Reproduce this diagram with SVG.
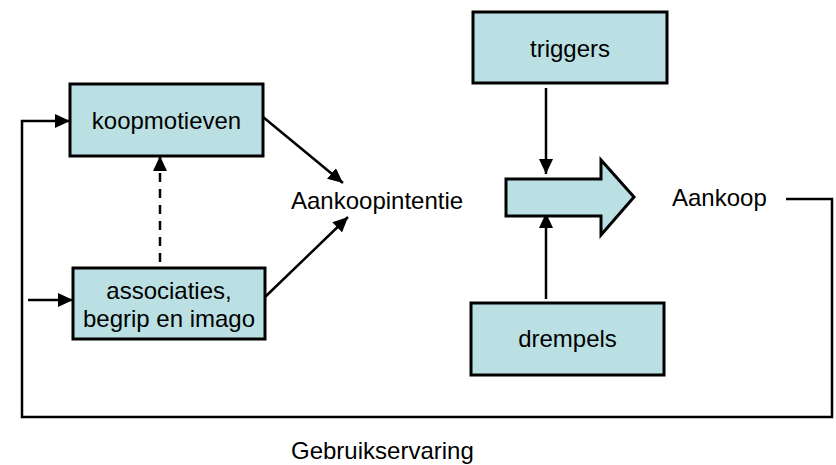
<svg xmlns="http://www.w3.org/2000/svg" width="836" height="465" viewBox="0 0 836 465">
  <style>
    .box { fill: #BBE0E3; stroke: #000; stroke-width: 3; }
    .lbl { font-family: "Liberation Sans", Arial, sans-serif; font-size: 24px; fill: #000; }
    .mid { text-anchor: middle; }
    .line { fill: none; stroke: #000; stroke-width: 2.5; }
    .dash { stroke-dasharray: 9 7; }
  </style>
  <defs>
    <marker id="arrow" viewBox="0 0 15 14" refX="15" refY="7" markerWidth="15" markerHeight="14" markerUnits="userSpaceOnUse" orient="auto">
      <path d="M0,0 L15,7 L0,14 Z" fill="#000"/>
    </marker>
  </defs>
  <rect width="836" height="465" fill="#fff"/>

  <g id="connectors">
    <polyline class="line" points="786,199 832,199 832,417 22,417 22,121 70,121" marker-end="url(#arrow)"/>
    <line class="line" x1="28" y1="300" x2="73" y2="300" marker-end="url(#arrow)"/>
    <line class="line dash" x1="160" y1="262" x2="160" y2="156" marker-end="url(#arrow)"/>
    <line class="line" x1="263" y1="117" x2="343" y2="183" marker-end="url(#arrow)"/>
    <line class="line" x1="265" y1="297" x2="348" y2="217" marker-end="url(#arrow)"/>
    <line class="line" x1="546" y1="88" x2="546" y2="174" marker-end="url(#arrow)"/>
    <line class="line" x1="546" y1="299" x2="546" y2="213" marker-end="url(#arrow)"/>
  </g>

  <g id="koopmotieven">
    <rect class="box" x="70" y="84" width="193" height="72"/>
    <text class="lbl mid" x="166.5" y="129">koopmotieven</text>
  </g>

  <g id="associaties">
    <rect class="box" x="73" y="268" width="192" height="71"/>
    <text class="lbl mid" x="169" y="299">associaties,</text>
    <text class="lbl mid" x="169" y="327">begrip en imago</text>
  </g>

  <g id="aankoopintentie">
    <text class="lbl" x="291" y="209">Aankoopintentie</text>
  </g>

  <g id="triggers">
    <rect class="box" x="473" y="12" width="194" height="71"/>
    <text class="lbl mid" x="570" y="57">triggers</text>
  </g>

  <g id="overgang">
    <polygon class="box" points="506,179 601,179 601,160 634,197 601,235 601,216 506,216"/>
  </g>

  <g id="drempels">
    <rect class="box" x="471" y="303" width="193" height="72"/>
    <text class="lbl mid" x="567.5" y="347">drempels</text>
  </g>

  <g id="aankoop">
    <text class="lbl" x="672" y="206">Aankoop</text>
  </g>

  <g id="gebruikservaring">
    <text class="lbl" x="291" y="459">Gebruikservaring</text>
  </g>
</svg>
